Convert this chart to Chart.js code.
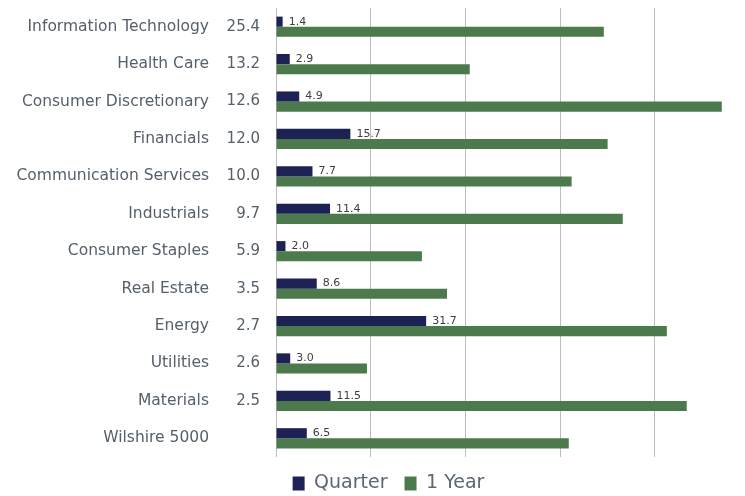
<!DOCTYPE html>
<html>
<head>
<meta charset="utf-8">
<script src="https://cdn.jsdelivr.net/npm/chart.js@4/dist/chart.umd.min.js"></script>
<style>
  html, body { margin: 0; padding: 0; background: #ffffff; }
  #wrap { width: 745px; height: 496px; }
</style>
</head>
<body>
<div id="wrap"><canvas id="chart"></canvas></div>
<script>
// Sector names, index weights and returns (%)
const sectors = [
  'Information Technology', 'Health Care', 'Consumer Discretionary', 'Financials',
  'Communication Services', 'Industrials', 'Consumer Staples', 'Real Estate',
  'Energy', 'Utilities', 'Materials', 'Wilshire 5000'
];
const weights = ['25.4', '13.2', '12.6', '12.0', '10.0', '9.7', '5.9', '3.5', '2.7', '2.6', '2.5', ''];
const quarterReturns = [1.4, 2.9, 4.9, 15.7, 7.7, 11.4, 2.0, 8.6, 31.7, 3.0, 11.5, 6.5];
const yearReturns = [69.2, 40.9, 94.1, 70.0, 62.4, 73.2, 30.8, 36.1, 82.5, 19.2, 86.7, 61.8];
const seriesNames = ['Quarter', '1 Year'];

const labelColor = '#55606b';
const fontFamily = '"DejaVu Sans", Verdana, sans-serif';

// Writes the quarter return just past the end of each quarter bar
const quarterValueLabels = {
  id: 'quarterValueLabels',
  afterDatasetsDraw(chart) {
    const ctx = chart.ctx;
    const meta = chart.getDatasetMeta(0);
    ctx.save();
    ctx.font = '11px ' + fontFamily;
    ctx.fillStyle = '#3d3d3d';
    ctx.textAlign = 'left';
    ctx.textBaseline = 'middle';
    meta.data.forEach((bar, i) => {
      ctx.fillText(quarterReturns[i].toFixed(1), bar.x + 6, bar.y);
    });
    ctx.restore();
  }
};

// Nudges the legend row so it sits under the middle of the bars
const legendOffset = {
  id: 'legendOffset',
  afterLayout(chart) {
    if (chart.legend) {
      chart.legend.left += 32;
    }
  }
};

// Vertical axes should not reserve extra room above and below the bars
function dropLabelPadding(scale) {
  scale.paddingTop = 0;
  scale.paddingBottom = 0;
}

new Chart(document.getElementById('chart'), {
  type: 'bar',
  data: {
    labels: sectors,
    datasets: [
      {
        label: seriesNames[0],
        data: quarterReturns,
        backgroundColor: '#1c2253',
        categoryPercentage: 0.54,
        barPercentage: 1.0
      },
      {
        label: seriesNames[1],
        data: yearReturns,
        backgroundColor: '#4c7a4d',
        categoryPercentage: 0.54,
        barPercentage: 1.0
      }
    ]
  },
  options: {
    indexAxis: 'y',
    responsive: true,
    maintainAspectRatio: false,
    animation: false,
    layout: { padding: { left: 0, right: 0, top: 8, bottom: -7 } },
    scales: {
      x: {
        min: 0,
        max: 99,
        ticks: { display: false, stepSize: 20, includeBounds: false },
        grid: { color: '#bdbdbd', lineWidth: 1, drawTicks: false },
        border: { display: false },
        afterFit(scale) { scale.height = 0; }
      },
      y: {
        type: 'category',
        weight: 1,
        offset: true,
        grid: { display: false, drawTicks: false },
        border: { display: false },
        ticks: {
          color: labelColor,
          padding: 18,
          font: { family: fontFamily, size: 15.5 }
        },
        afterFit(scale) {
          scale.width = 227;
          dropLabelPadding(scale);
        }
      },
      y2: {
        type: 'category',
        position: 'left',
        labels: weights,
        weight: 0,
        offset: true,
        grid: { display: false, drawTicks: false },
        border: { display: false },
        ticks: {
          color: labelColor,
          padding: 16,
          font: { family: fontFamily, size: 15 }
        },
        afterFit(scale) {
          scale.width = 49;
          dropLabelPadding(scale);
        }
      }
    },
    plugins: {
      legend: {
        position: 'bottom',
        labels: {
          color: '#5a6775',
          boxWidth: 12,
          boxHeight: 14,
          padding: 17,
          font: { family: fontFamily, size: 19 }
        }
      },
      tooltip: { enabled: false }
    }
  },
  plugins: [quarterValueLabels, legendOffset]
});
</script>
</body>
</html>
